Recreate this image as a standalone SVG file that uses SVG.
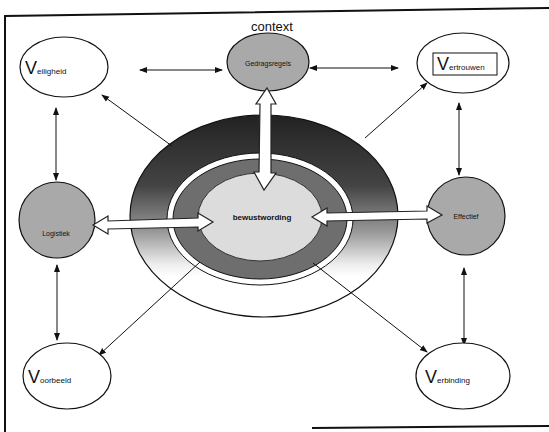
<svg xmlns="http://www.w3.org/2000/svg" width="549" height="432" viewBox="0 0 549 432">
<style>
.frame{fill:none;stroke:#111;stroke-width:2}
.node{fill:#fff;stroke:#111;stroke-width:1.2}
.gray{fill:#a9a9a9;stroke:#111;stroke-width:1.2}
.conn{fill:none;stroke:#111;stroke-width:1;marker-end:url(#ah)}
.dbl{marker-start:url(#ahs)}
.big{fill:#fff;stroke:#222;stroke-width:1.2}
.bigV{font-family:"Liberation Sans",Arial,sans-serif;font-size:18px;fill:#111}
.small{font-family:"Liberation Sans",Arial,sans-serif;font-size:8px;fill:#111}
.lbl{font-family:"Liberation Sans",Arial,sans-serif;font-size:7px;fill:#111;text-anchor:middle}
</style>
<defs>
<marker id="ah" markerWidth="8" markerHeight="8" refX="7" refY="4" orient="auto" markerUnits="userSpaceOnUse"><path d="M0,1 L8,4 L0,7 Z" fill="#111"/></marker>
<marker id="ahs" markerWidth="8" markerHeight="8" refX="1" refY="4" orient="auto" markerUnits="userSpaceOnUse"><path d="M8,1 L0,4 L8,7 Z" fill="#111"/></marker>
<linearGradient id="g" x1="0" y1="0" x2="0" y2="1">
<stop offset="0" stop-color="#222"/>
<stop offset="0.35" stop-color="#444"/>
<stop offset="0.58" stop-color="#999"/>
<stop offset="0.74" stop-color="#eee"/>
<stop offset="0.8" stop-color="#fff"/>
<stop offset="1" stop-color="#fff"/>
</linearGradient>
</defs>
<g id="frame">
<path class="frame" d="M5,432 L5,16 L549,8"/>
<path class="frame" d="M312,428 L549,426"/>
</g>
<text x="272" y="31" font-family="'Liberation Sans',Arial,sans-serif" font-size="13" text-anchor="middle" fill="#111">context</text>
<g id="core">
<ellipse cx="264" cy="216" rx="134" ry="101" fill="url(#g)" stroke="#111" stroke-width="1.2"/>
<ellipse cx="260" cy="219" rx="93" ry="66" fill="#fff" stroke="#111" stroke-width="1"/>
<ellipse cx="260" cy="219" rx="87" ry="60" fill="#6e6e6e" stroke="#111" stroke-width="1"/>
<ellipse cx="260" cy="217" rx="62" ry="44" fill="#dcdcdc" stroke="#333" stroke-width="1"/>
<text x="262" y="220" font-family="'Liberation Sans',Arial,sans-serif" font-size="8" font-weight="bold" text-anchor="middle" fill="#111">bewustwording</text>
</g>
<g id="connectors">
<line class="conn dbl" x1="140" y1="70" x2="222" y2="70"/>
<line class="conn dbl" x1="310" y1="68" x2="398" y2="68"/>
<line class="conn" x1="172" y1="146" x2="102" y2="95"/>
<line class="conn" x1="365" y1="138" x2="427" y2="83"/>
<line class="conn dbl" x1="56" y1="108" x2="56" y2="180"/>
<line class="conn dbl" x1="57" y1="265" x2="57" y2="340"/>
<line class="conn dbl" x1="459" y1="103" x2="459" y2="175"/>
<line class="conn dbl" x1="464" y1="268" x2="464" y2="345"/>
<line class="conn" x1="200" y1="262" x2="99" y2="355"/>
<line class="conn" x1="313" y1="263" x2="427" y2="352"/>
</g>
<g id="veiligheid"><ellipse class="node" cx="64" cy="67" rx="44" ry="30"/><text x="25" y="74"><tspan class="bigV">V</tspan><tspan class="small">eiligheid</tspan></text></g>
<g id="vertrouwen"><ellipse class="node" cx="463" cy="63" rx="46" ry="30"/><rect x="433" y="53" width="64" height="22" fill="#fff" stroke="#111" stroke-width="1"/><text x="437" y="70"><tspan class="bigV">V</tspan><tspan class="small">ertrouwen</tspan></text></g>
<g id="voorbeeld"><ellipse class="node" cx="67" cy="376" rx="44" ry="33"/><text x="28" y="383"><tspan class="bigV">V</tspan><tspan class="small">oorbeeld</tspan></text></g>
<g id="verbinding"><ellipse class="node" cx="463" cy="376" rx="47" ry="33"/><text x="425" y="383"><tspan class="bigV">V</tspan><tspan class="small">erbinding</tspan></text></g>
<g id="top"><ellipse class="gray" cx="268" cy="62" rx="41" ry="29"/><text class="lbl" x="268" y="66">Gedragsregels</text></g>
<g id="left"><ellipse class="gray" cx="57" cy="220" rx="38" ry="38"/><text class="lbl" x="56" y="236">Logistiek</text></g>
<g id="right"><ellipse class="gray" cx="466" cy="216" rx="39" ry="39"/><text class="lbl" x="466" y="219">Effectief</text></g>
<g id="bigarrows">
<path class="big" d="M267,88 L276,104 L271,104 L271,173 L276,173 L264,190 L254,172 L259,172 L260,104 L256,104 Z"/>
<path class="big" d="M93,225 L108,216 L108,221 L198,218 L198,213 L213,222 L198,231 L198,227 L108,229 L108,234 Z"/>
<path class="big" d="M312,217 L327,208 L327,213 L427,211 L427,206 L442,215 L427,223 L427,219 L327,221 L327,226 Z"/>
</g>
</svg>
